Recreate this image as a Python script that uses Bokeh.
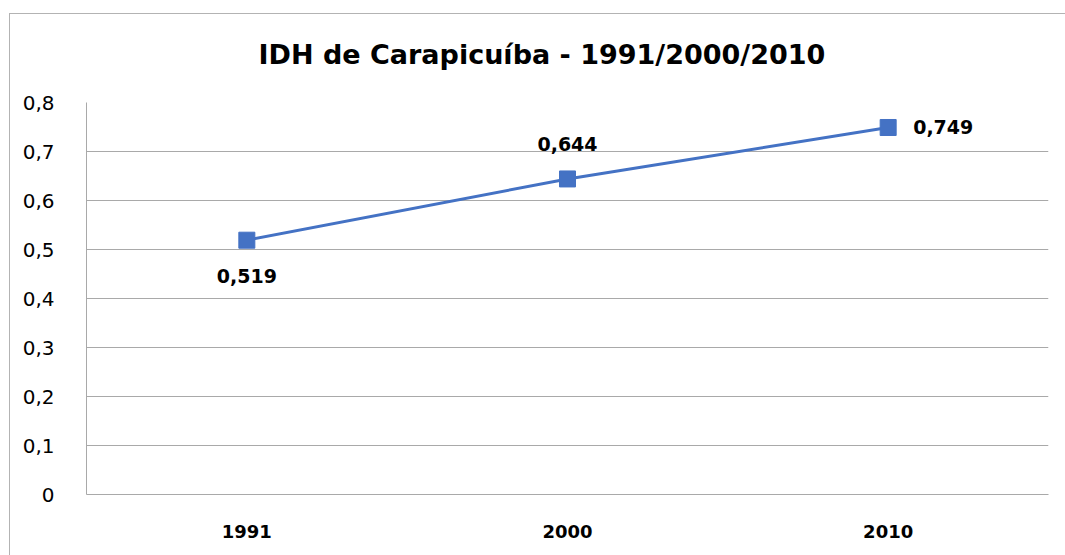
from bokeh.plotting import figure
from bokeh.models import ColumnDataSource, FixedTicker, Range1d, FactorRange
from bokeh.core.properties import value
from bokeh.embed import file_html
from bokeh.resources import INLINE

# ---- data ----
years = ["1991", "2000", "2010"]
idh = [0.519, 0.644, 0.749]
idh_labels = ["0,519", "0,644", "0,749"]
y_ticks = [0, 0.1, 0.2, 0.3, 0.4, 0.5, 0.6, 0.7, 0.8]
y_tick_labels = ["0", "0,1", "0,2", "0,3", "0,4", "0,5", "0,6", "0,7", "0,8"]
title_text = "IDH de Carapicuíba - 1991/2000/2010"

FONT = "DejaVu Sans"
BLUE = "#4472C4"
GRID = "#a9a9a9"
FRAME_LINE = "#b3b3b3"

p = figure(
    x_range=FactorRange(*years), y_range=Range1d(0, 0.8),
    width=1065, height=555,
    output_backend="svg", toolbar_location=None,
    min_border_left=86, min_border_right=17, min_border_top=102, min_border_bottom=61,
    title=title_text,
)
p.margin = (0, 0, 0, 0)
p.styles = {
    "background": (
        f"linear-gradient({FRAME_LINE},{FRAME_LINE}) 9px 13px / 100% 1px no-repeat, "
        f"linear-gradient({FRAME_LINE},{FRAME_LINE}) 9px 13px / 1px 100% no-repeat, white"
    )
}
p.outline_line_color = None
p.background_fill_color = "white"
p.border_fill_color = None

# title
p.title.align = "left"
p.title.offset = 172
p.title.standoff = 66
p.title.text_font = FONT
p.title.text_font_style = "bold"
p.title.text_font_size = "27px"
p.title.text_color = "black"

# axes
p.yaxis.ticker = FixedTicker(ticks=y_ticks)
p.yaxis.major_label_overrides = {t: l for t, l in zip(y_ticks, y_tick_labels)}
p.yaxis.major_label_text_font = FONT
p.yaxis.major_label_text_font_size = "20px"
p.yaxis.major_label_text_color = "black"
p.yaxis.major_label_standoff = 26
p.yaxis.major_tick_line_color = None
p.yaxis.minor_tick_line_color = None
p.yaxis.axis_line_color = GRID

p.xaxis.major_label_text_font = FONT
p.xaxis.major_label_text_font_style = "bold"
p.xaxis.major_label_text_font_size = "18px"
p.xaxis.major_label_text_color = "black"
p.xaxis.major_label_standoff = 24
p.xaxis.major_tick_line_color = None
p.xaxis.minor_tick_line_color = None
p.xaxis.axis_line_color = GRID

p.xgrid.visible = False
p.ygrid.grid_line_color = GRID
p.ygrid.grid_line_width = 1

# series
src = ColumnDataSource(dict(
    x=years, y=idh, text=idh_labels,
    xo=[0, 0, 25], yo=[36, -35, 0],
    align=["center", "center", "left"],
))
p.line("x", "y", source=src, line_width=3, line_color=BLUE)
p.scatter("x", "y", source=src, marker="square", size=16, fill_color=BLUE, line_color=BLUE)
p.text("x", "y", text="text", source=src, x_offset="xo", y_offset="yo",
       text_align="align", text_baseline="middle",
       text_font=value(FONT), text_font_style="bold", text_font_size="19px",
       text_color="black")

open("out.html", "w").write(file_html(p, INLINE))
